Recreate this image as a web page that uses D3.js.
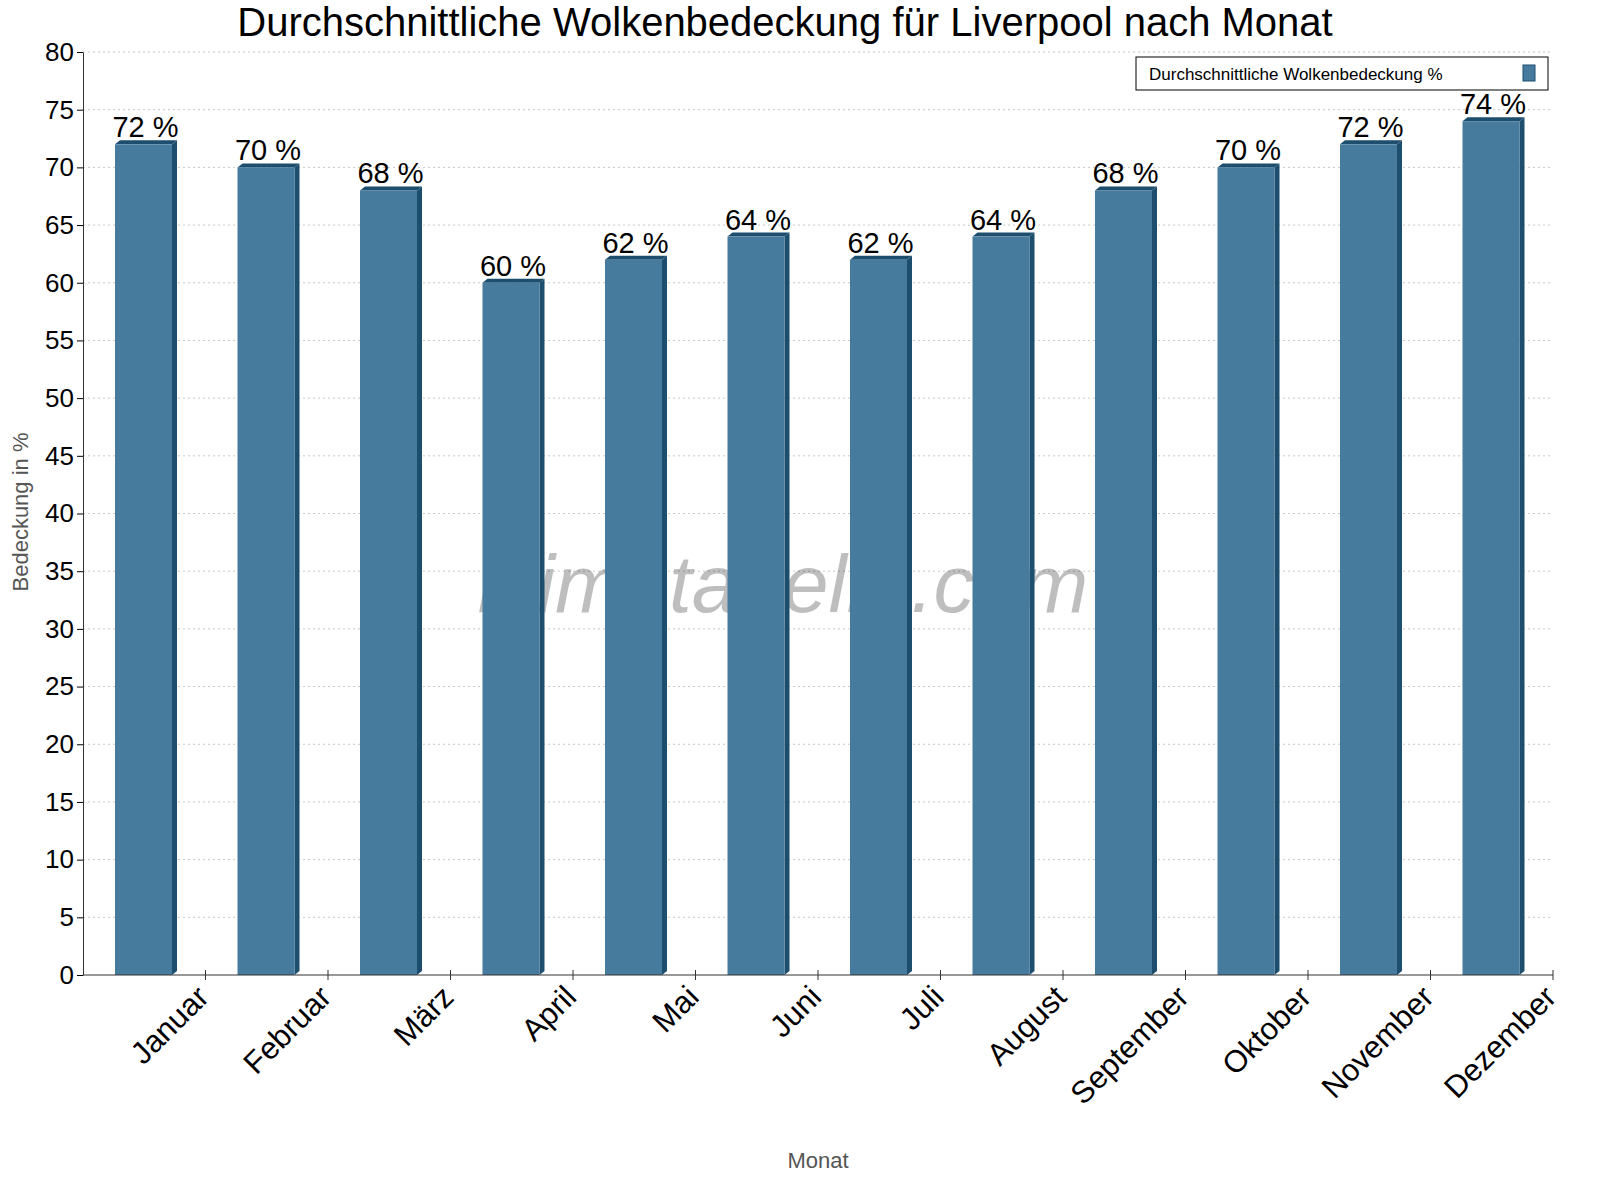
<!DOCTYPE html>
<html><head><meta charset="utf-8">
<script src="https://cdn.jsdelivr.net/npm/d3@7"></script>
<style>body{margin:0;background:#fff}text{font-family:Arial,"Liberation Sans",sans-serif}</style>
</head><body>
<script>
var months = ["Januar","Februar","März","April","Mai","Juni","Juli","August","September","Oktober","November","Dezember"];
var cover = [72,70,68,60,62,64,62,64,68,70,72,74];
var yTicks = d3.range(0, 81, 5);

var W = 1600, H = 1200;
var plotLeft = 83, plotRight = 1553, plotTop = 52, plotBottom = 975;

var svg = d3.select("body").append("svg").attr("width", W).attr("height", H);

var x = d3.scaleBand().domain(months).range([plotLeft, plotRight]);
var y = d3.scaleLinear().domain([0, 80]).range([plotBottom, plotTop]);

// grid
svg.append("g").selectAll("line").data(yTicks.slice(1)).join("line")
  .attr("x1", plotLeft).attr("x2", plotRight)
  .attr("y1", d => y(d)).attr("y2", d => y(d))
  .attr("stroke", "#c8c8c8").attr("stroke-dasharray", "2,3");

// watermark
svg.append("text").attr("x", 783).attr("y", 612).attr("text-anchor", "middle")
  .attr("font-size", 82).attr("font-style", "italic").attr("fill", "#000").attr("opacity", 0.25)
  .text("klimatabelle.com");

// bars
var bw = 57, dx = 5, dy = 4;
var g = svg.append("g").selectAll("g").data(cover).join("g");
g.each(function(d, i) {
  var s = d3.select(this);
  var x0 = x(months[i]) + 32, yt = y(d);
  s.append("path").attr("fill", "#1d4e6e")
    .attr("d", `M${x0 + bw},${yt} L${x0 + bw + dx},${yt - dy} L${x0 + bw + dx},${plotBottom - dy} L${x0 + bw},${plotBottom} Z`);
  s.append("path").attr("fill", "#1d4e6e")
    .attr("d", `M${x0},${yt} L${x0 + dx},${yt - dy} L${x0 + bw + dx},${yt - dy} L${x0 + bw},${yt} Z`);
  s.append("rect").attr("x", x0).attr("y", yt).attr("width", bw).attr("height", plotBottom - yt).attr("fill", "#467b9e");
  s.append("text").attr("x", x0 + bw / 2 + 2).attr("y", yt - 7).attr("text-anchor", "middle")
    .attr("font-size", 29).attr("fill", "#000").text(d + " %");
});

// axes
var ya = svg.append("g").attr("transform", `translate(${plotLeft},0)`)
  .call(d3.axisLeft(y).tickValues(yTicks).tickSize(6).tickSizeOuter(0));
ya.selectAll("text").attr("font-size", 26).attr("fill", "#000").attr("font-family", "Arial,Liberation Sans,sans-serif");
ya.select(".domain").attr("stroke", "#333");

var xa = svg.append("g").attr("transform", `translate(0,${plotBottom})`);
xa.append("line").attr("x1", plotLeft).attr("x2", plotRight).attr("stroke", "#333");
xa.selectAll("line.t").data(d3.range(1, 13)).join("line").attr("class", "t")
  .attr("x1", i => plotLeft + i * x.bandwidth()).attr("x2", i => plotLeft + i * x.bandwidth())
  .attr("y1", -5).attr("y2", 5).attr("stroke", "#333");
xa.selectAll("text").data(months).join("text")
  .attr("transform", d => `translate(${x(d) + x.bandwidth() + 5},${24}) rotate(-45)`)
  .attr("text-anchor", "end").attr("font-size", 31).attr("fill", "#000").text(d => d);

// titles
svg.append("text").attr("x", 785).attr("y", 36).attr("text-anchor", "middle")
  .attr("font-size", 40).attr("fill", "#000").text("Durchschnittliche Wolkenbedeckung für Liverpool nach Monat");
svg.append("text").attr("transform", "translate(28,512) rotate(-90)").attr("text-anchor", "middle")
  .attr("font-size", 22).attr("fill", "#555").text("Bedeckung in %");
svg.append("text").attr("x", 818).attr("y", 1168).attr("text-anchor", "middle")
  .attr("font-size", 22).attr("fill", "#555").text("Monat");

// legend
svg.append("rect").attr("x", 1136).attr("y", 57).attr("width", 412).attr("height", 33)
  .attr("fill", "#fff").attr("stroke", "#000");
svg.append("text").attr("x", 1149).attr("y", 80).attr("font-size", 17).attr("fill", "#000")
  .text("Durchschnittliche Wolkenbedeckung %");
svg.append("rect").attr("x", 1523).attr("y", 65).attr("width", 12).attr("height", 16)
  .attr("fill", "#467b9e").attr("stroke", "#1d4e6e");
</script>
</body></html>
